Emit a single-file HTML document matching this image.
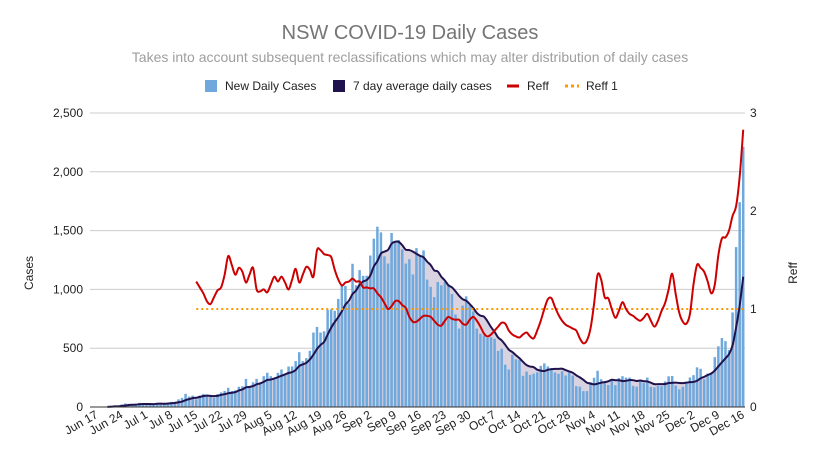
<!DOCTYPE html>
<html><head><meta charset="utf-8"><style>
body{margin:0;background:#fff}
svg text{font-family:"Liberation Sans",Arial,sans-serif}
</style></head><body>
<svg id="chart" width="820" height="450" xmlns="http://www.w3.org/2000/svg">
<text x="410" y="39" text-anchor="middle" font-size="20" fill="#757575">NSW COVID-19 Daily Cases</text>
<text x="410" y="62" text-anchor="middle" font-size="14" fill="#9e9e9e">Takes into account subsequent reclassifications which may alter distribution of daily cases</text>
<g font-size="12" fill="#222">
<g><rect x="205" y="80" width="12" height="12" fill="#6fa8dc"/><text x="225" y="90">New Daily Cases</text></g>
<g><rect x="333" y="80" width="12" height="12" fill="#20124d"/><text x="353" y="90">7 day average daily cases</text></g>
<g><line x1="507" y1="86" x2="519" y2="86" stroke="#cc0000" stroke-width="3"/><text x="527" y="90">Reff</text></g>
<g><line x1="565" y1="86" x2="579" y2="86" stroke="#ff9900" stroke-width="3" stroke-dasharray="3,3"/><text x="586" y="90">Reff 1</text></g>
</g>
<text transform="translate(33,273) rotate(-90)" text-anchor="middle" font-size="12" fill="#222">Cases</text>
<text transform="translate(797,273) rotate(-90)" text-anchor="middle" font-size="12" fill="#222">Reff</text>
<g id="grid"></g><g id="bars"></g><g id="marks"></g><g id="axes"></g>
</svg>
<script>
const cases=[0,0,0,3,10,15,11,
22,30,27,18,19,35,24,
22,31,24,35,27,27,38,
44,45,65,77,112,89,97,
65,97,111,105,98,78,110,
124,136,163,136,141,172,177,
239,170,210,239,199,262,291,
262,233,291,319,283,344,345,
390,466,390,415,478,633,681,
633,644,825,830,818,919,1029,
1029,882,1218,1035,1164,1116,1116,
1288,1431,1533,1485,1281,1220,1480,
1405,1420,1340,1220,1257,1127,1351,
1284,1331,1083,1022,935,1063,1035,
1063,1043,961,787,667,863,941,
864,813,667,623,608,587,594,
580,477,496,360,319,444,406,
399,265,301,273,283,295,350,
371,345,332,294,282,304,268,
293,268,177,173,135,135,211,
249,308,236,206,187,223,185,
246,262,250,250,180,173,216,
203,250,172,167,180,177,218,
261,264,182,150,172,201,251,
271,337,325,236,284,291,424,
516,586,560,485,804,1360,1742,
2213];
const reffStart=28;
const reff=[1.28,1.22,1.16,1.08,1.05,1.12,1.19,1.22,1.35,1.54,1.45,1.35,1.42,1.38,1.27,1.35,1.42,1.2,1.18,1.2,1.17,1.25,1.33,1.28,1.33,1.27,1.2,1.3,1.41,1.27,1.35,1.43,1.4,1.33,1.6,1.6,1.56,1.55,1.53,1.4,1.3,1.24,1.27,1.28,1.31,1.28,1.28,1.22,1.22,1.21,1.21,1.16,1.12,1.06,1.0,1.03,1.08,1.08,1.04,1.01,0.92,0.87,0.87,0.9,0.93,0.93,0.92,0.88,0.84,0.83,0.88,0.92,0.9,0.89,0.89,0.85,0.84,0.89,0.92,0.88,0.82,0.75,0.72,0.74,0.78,0.82,0.86,0.85,0.78,0.74,0.72,0.71,0.74,0.76,0.72,0.7,0.78,0.88,1.0,1.1,1.11,1.02,0.94,0.88,0.84,0.82,0.8,0.78,0.7,0.65,0.68,0.8,1.05,1.35,1.3,1.12,1.11,1.0,0.91,0.98,1.07,1.0,0.95,0.93,0.9,0.88,0.91,0.95,0.88,0.82,0.88,0.98,1.06,1.2,1.36,1.15,0.96,0.87,0.85,0.95,1.25,1.45,1.42,1.38,1.28,1.16,1.25,1.55,1.72,1.73,1.8,1.95,2.05,2.35,2.83];
const weekLabels=["Jun 17","Jun 24","Jul 1","Jul 8","Jul 15","Jul 22","Jul 29","Aug 5","Aug 12","Aug 19","Aug 26","Sep 2","Sep 9","Sep 16","Sep 23","Sep 30","Oct 7","Oct 14","Oct 21","Oct 28","Nov 4","Nov 11","Nov 18","Nov 25","Dec 2","Dec 9","Dec 16"];
const leftTicks=[0,500,1000,1500,2000,2500];
const rightTicks=[0,1,2,3];
const NS="http://www.w3.org/2000/svg";
const X0=95,X1=745,Y0=407,YT=113,N=cases.length,bw=(X1-X0)/N;
const xc=i=>X0+bw*(i+0.5);
const yL=v=>Y0-(v/2500)*(Y0-YT);
const yR=v=>Y0-(v/3)*(Y0-YT);
function mk(t,a,p){const e=document.createElementNS(NS,t);for(const k in a)e.setAttribute(k,a[k]);(p||document.getElementById('marks')).appendChild(e);return e;}
const grid=document.getElementById('grid'),axes=document.getElementById('axes'),barsG=document.getElementById('bars');
leftTicks.forEach(v=>{
 const l=mk('line',{x1:90,x2:745,y1:yL(v),y2:yL(v),stroke:v?'#cccccc':'#333',"stroke-width":1},v?grid:axes);
 
 
 const t=mk('text',{x:83,y:yL(v)+4,"text-anchor":"end","font-size":12,fill:"#222"},axes);t.textContent=v.toLocaleString('en-US');
 
 
});
rightTicks.forEach(v=>{
 const t=mk('text',{x:750,y:yR(v)+4,"font-size":12,fill:"#222"},axes);t.textContent=v;
 
 
});
weekLabels.forEach((s,k)=>{
 const x=xc(k*7)+2;
 const t=mk('text',{transform:`translate(${x},417) rotate(-30)`,"text-anchor":"end","font-size":12,fill:"#222"},axes);t.textContent=s;
 
 
});
const avg=cases.map((v,i)=>{const s=cases.slice(Math.max(0,i-6),i+1);return s.reduce((a,b)=>a+b,0)/s.length;});
let area=`M${xc(3)},${Y0}`;for(let i=3;i<N;i++)area+=`L${xc(i)},${yL(avg[i])}`;area+=`L${xc(N-1)},${Y0}Z`;
const ar=mk('path',{d:area,fill:"#d9d2e0"},barsG);


cases.forEach((v,i)=>{
 const r=mk('rect',{x:xc(i)-bw*0.35,y:yL(v),width:bw*0.7,height:Y0-yL(v),fill:"#6fa8dc"},barsG);
 
 
});
function smooth(pts){let d=`M${pts[0][0]},${pts[0][1]}`;for(let i=0;i<pts.length-1;i++){const p0=pts[Math.max(0,i-1)],p1=pts[i],p2=pts[i+1],p3=pts[Math.min(pts.length-1,i+2)];d+=`C${p1[0]+(p2[0]-p0[0])/6},${p1[1]+(p2[1]-p0[1])/6} ${p2[0]-(p3[0]-p1[0])/6},${p2[1]-(p3[1]-p1[1])/6} ${p2[0]},${p2[1]}`;}return d;}
const ap=[];for(let i=3;i<N;i++)ap.push([xc(i),yL(avg[i])]);
const al=mk('path',{d:smooth(ap),fill:"none",stroke:"#20124d","stroke-width":2});


const r1=mk('line',{x1:xc(reffStart),x2:xc(N-1),y1:yR(1),y2:yR(1),stroke:"#ff9900","stroke-width":2,"stroke-dasharray":"2,3"});


const rp=reff.map((v,i)=>[xc(reffStart+i),yR(v)]);
const rl=mk('path',{d:smooth(rp),fill:"none",stroke:"#cc0000","stroke-width":2});


</script>
</body></html>
